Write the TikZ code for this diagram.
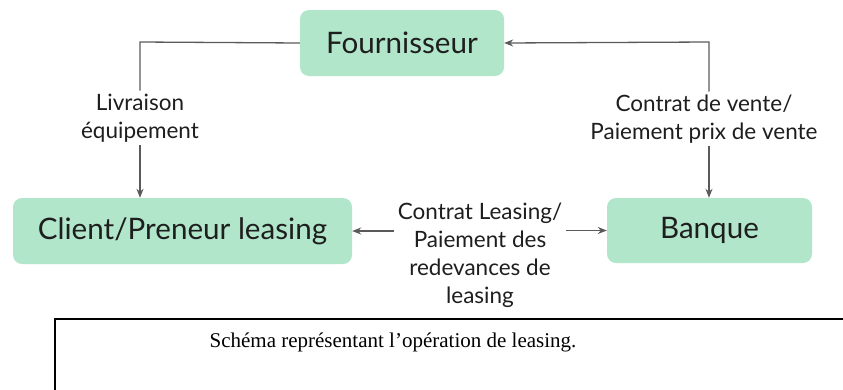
\documentclass[tikz,border=0pt]{standalone}
\usepackage{fontspec}
\setmainfont{Liberation Serif}
\newfontfamily\diagfont{Lato}
\usetikzlibrary{arrows.meta}
\definecolor{boxgreen}{HTML}{B1E6CB}
\definecolor{linegray}{HTML}{5A5A5A}
\definecolor{txt}{HTML}{1E1E1E}
\tikzset{
  entity/.style={fill=boxgreen, rounded corners=9pt, draw=none, text=txt,
    font=\diagfont\fontsize{29.6}{32}\selectfont, align=center},
  flowlabel/.style={text=txt, font=\diagfont\fontsize{22.5}{28}\selectfont, align=center, inner xsep=4pt, inner ysep=3pt},
  conn/.style={draw=linegray, line width=1.3pt},
  arr/.style={conn, -{Stealth[length=9pt,width=7pt]}},
}
\begin{document}
\begin{tikzpicture}[x=1pt,y=-1pt]
\useasboundingbox (0,0) rectangle (843,389);
\node[entity, minimum width=204pt, minimum height=66pt] (F) at (402,43) {Fournisseur};
\node[entity, minimum width=339pt, minimum height=66pt] (C) at (182.5,231) {Client/Preneur leasing};
\node[entity, minimum width=205pt, minimum height=65pt] (B) at (709.5,230.5) {Banque};
\node[flowlabel] (L1) at (140,118) {Livraison\\équipement};
\node[flowlabel] (L2) at (704,119) {Contrat de vente/\\Paiement prix de vente};
\node[flowlabel] (L3) at (480,255) {Contrat Leasing/\\Paiement des\\redevances de\\leasing};
\coordinate (c1) at (140,42);
\coordinate (c2) at (709,42);
\draw[conn] (F.west) -- (c1) -- (L1.north);
\draw[arr] (L1.south) -- (L1.south |- C.north);
\draw[conn, {Stealth[length=9pt,width=7pt]}-] (F.east) -- (c2) -- (c2 |- L2.north);
\draw[arr] (c2 |- L2.south) -- (c2 |- B.north);
\draw[arr] (L3.west |- C.east) -- (C.east);
\draw[arr] (L3.east |- B.west) -- (B.west);
\node[draw=black, line width=1.6pt, minimum width=900pt, minimum height=120pt, anchor=north west] (cap) at (54,318) {};
\node[font=\fontsize{21}{24}\selectfont, anchor=base] (captxt) at (393,347) {Schéma représentant l’opération de leasing.};
\end{tikzpicture}
\end{document}
